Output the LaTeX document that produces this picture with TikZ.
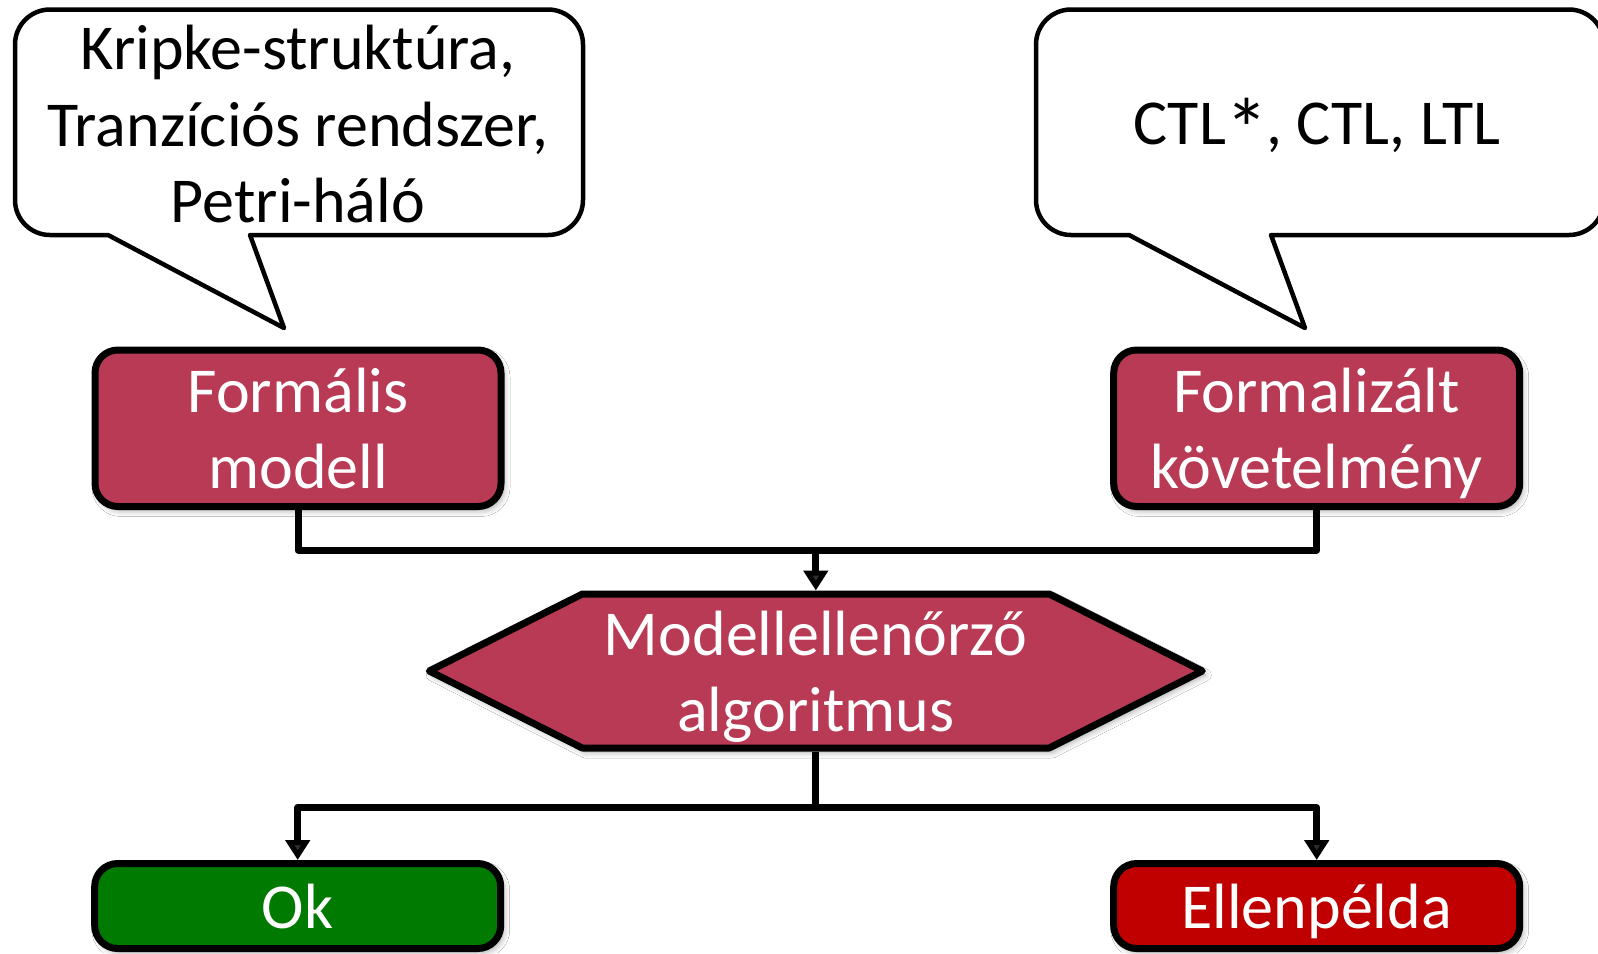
\documentclass[tikz,border=0pt]{standalone}
\usepackage{fontspec}
\usepackage{graphicx}
\setmainfont{Carlito}
\usetikzlibrary{arrows.meta,shadows.blur}
\definecolor{boxred}{RGB}{185,58,84}
\definecolor{okgreen}{RGB}{0,122,0}
\definecolor{errred}{RGB}{192,0,0}
\newcommand\diagfont{\fontsize{64}{76.4}\selectfont}
\newcommand\nodepth[1]{\raisebox{0pt}[\height][0pt]{#1}}
\newcommand\bigast{\kern-1pt\smash{\raisebox{-15pt}{\scalebox{1.35}{*}}}\kern-2pt}
\tikzset{
  myshadow/.style={blur shadow={shadow xshift=3pt, shadow yshift=-4pt, shadow blur radius=6pt, shadow opacity=35}},
  flowbox/.style={draw=black, line width=7pt, rounded corners=23pt, minimum width=406pt,
    text=white, align=center, font=\diagfont, inner sep=0pt, myshadow},
  hexline/.style={draw=black, line width=7pt, line join=round, fill=boxred, myshadow},
  conn/.style={line width=7pt, line join=round},
  arr/.style={conn, -{Triangle[width=24pt,length=20pt]}},
  calloutline/.style={draw=black, line width=4.5pt, fill=white, line join=round},
  callout/.pic={
    \draw[calloutline] (235,-225.5) -- (533,-225.5) arc[start angle=270, end angle=360, radius=35]
      -- (568,-35) arc[start angle=0, end angle=90, radius=35]
      -- (35,0) arc[start angle=90, end angle=180, radius=35]
      -- (0,-190.5) arc[start angle=180, end angle=270, radius=35]
      -- (93,-225.5) -- (269,-318.5) -- cycle;
  }
}
\begin{document}
\begin{tikzpicture}[x=1pt,y=1pt]
\useasboundingbox (0,0) rectangle (1598,-953);
\clip (0,0) rectangle (1598,-953);
\fill[white] (0,0) rectangle (1598,-953);
% callouts
\pic at (15,-9.5) {callout};
\pic at (1036,-9.5) {callout};
\node[font=\diagfont, align=center, text=black] (kripke) at (298,-124.3)
  {Kripke-struktúra,\\Tranzíciós rendszer,\\Petri-háló};
\node[font=\diagfont, text=black] (ctl) at (1317,-128) {CTL\bigast, CTL, LTL};
% boxes
\node[flowbox, fill=boxred, minimum height=156.5pt] (form) at (298,-428.25) {Formális\\modell};
\node[flowbox, fill=boxred, minimum height=156.5pt] (req) at (1316.7,-428.25) {Formalizált\\\nodepth{követelmény}};
\node[flowbox, fill=okgreen, minimum height=85pt] (ok) at (297.7,-906) {Ok};
\node[flowbox, fill=errred, minimum height=85pt] (ell) at (1316.7,-906) {\nodepth{Ellenpélda}};
% hexagon
\draw[hexline] (429.3,-671) -- (582.3,-594) -- (1049.3,-594) -- (1202.3,-671)
  -- (1049.3,-748) -- (582.3,-748) -- cycle;
\node[minimum width=467pt, minimum height=154pt, inner sep=0pt, outer sep=3.5pt,
  text=white, align=center, font=\diagfont] (hex) at (815.8,-671) {Modellellenőrző\\\nodepth{algoritmus}};
% connectors
\coordinate (j1) at (815.8,-550);
\coordinate (j2) at (815.8,-807.5);
\draw[conn] (form.south) |- (j1) -| (req.south);
\draw[arr] (j1) -- (hex.north);
\draw[conn] (hex.south) -- (j2);
\draw[arr] (j2) -| (ok.north);
\draw[arr] (j2) -| (ell.north);
\end{tikzpicture}
\end{document}
